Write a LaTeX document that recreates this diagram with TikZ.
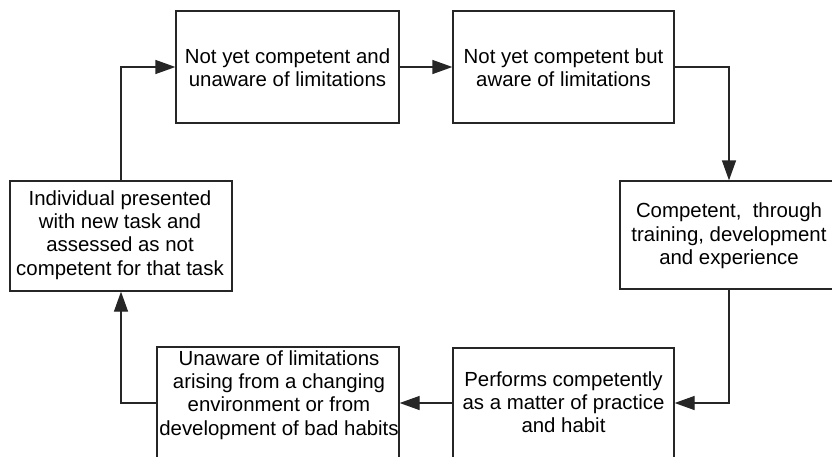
\documentclass[tikz,border=0pt]{standalone}
\usepackage{fontspec}
\setmainfont{Liberation Sans}
\usetikzlibrary{arrows.meta}
\begin{document}
\begin{tikzpicture}[x=1pt,y=-1pt,
  box/.style={draw=black!85, line width=1.3pt, rectangle, inner sep=0pt, anchor=center},
  txt/.style={align=center, inner sep=0pt, font=\fontsize{20.4}{23.3}\selectfont, text=black},
  conn/.style={draw=black!85, line width=1.3pt, -{Triangle[length=20pt,width=14pt]}}]
\clip (0,0) rectangle (832,456);
\fill[white] (0,0) rectangle (832,456);
\node[box, minimum width=223pt, minimum height=112pt] (b1) at (287.5,67) {};
\node[box, minimum width=221pt, minimum height=112pt] (b2) at (563.5,67) {};
\node[box, minimum width=218pt, minimum height=108pt] (b3) at (729,235) {};
\node[box, minimum width=221pt, minimum height=110pt] (b4) at (563.5,403) {};
\node[box, minimum width=242pt, minimum height=112pt] (b5) at (278,403) {};
\node[box, minimum width=222pt, minimum height=110pt] (b6) at (121,236) {};
\node[txt] (t1) at (287.5,68) {Not yet competent and\\unaware of limitations};
\node[txt] (t2) at (563.5,68) {Not yet competent but\\aware of limitations};
\node[txt] (t3) at (729,236) {Competent,~ through\\training, development\\and experience};
\node[txt] (t4) at (563.5,402) {Performs competently\\as a matter of practice\\and habit};
\node[txt] (t5) at (279,395) {Unaware of limitations\\arising from a changing\\environment or from\\development of bad habits};
\node[txt] (t6) at (120,235) {Individual presented\\with new task and\\assessed as not\\competent for that task};
\draw[conn] (b6.north) |- (b1.west);
\draw[conn] (b1.east) -- (b2.west);
\draw[conn] (b2.east) -| (b3.north);
\draw[conn] (b3.south) |- (b4.east);
\draw[conn] (b4.west) -- (b5.east);
\draw[conn] (b5.west) -| (b6.south);
\end{tikzpicture}
\end{document}
